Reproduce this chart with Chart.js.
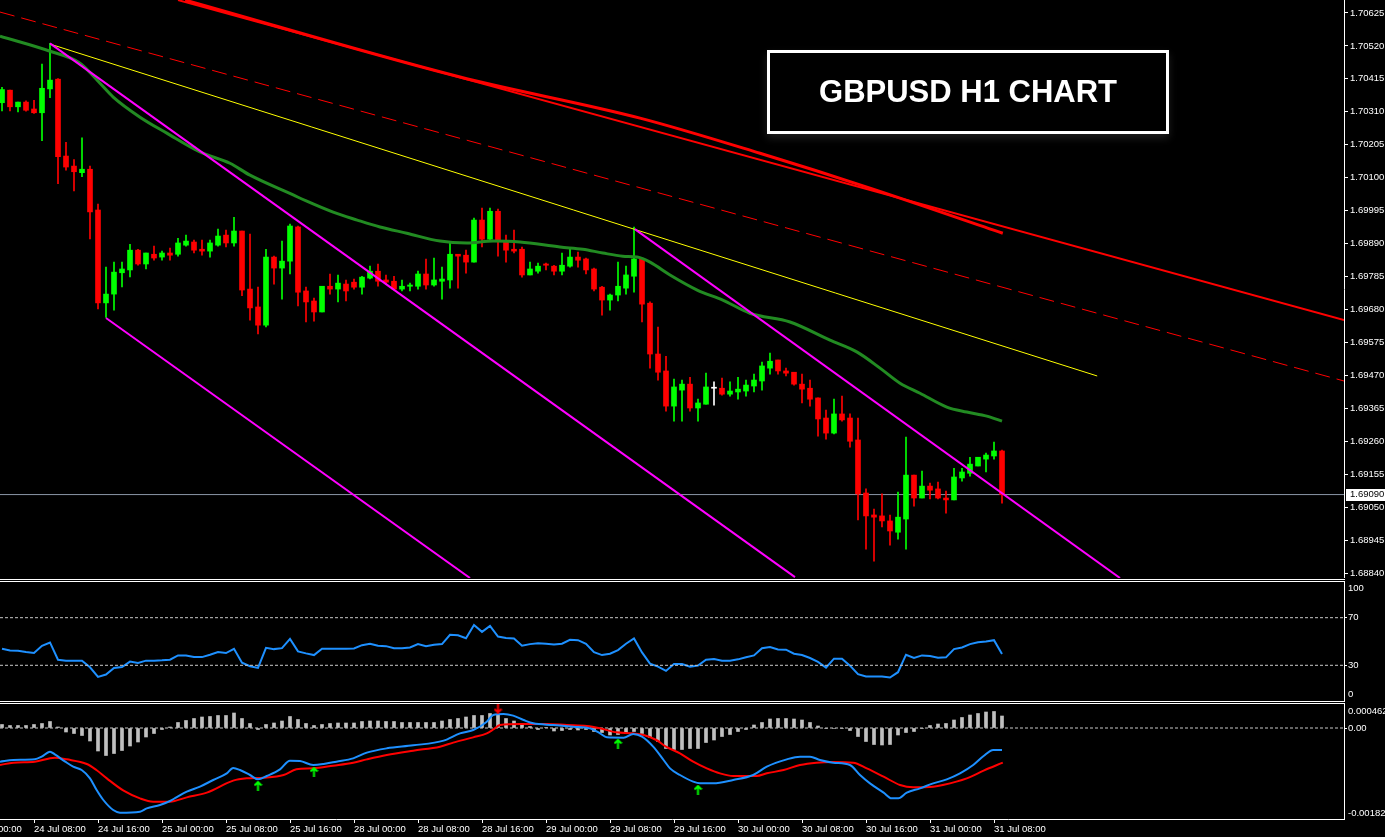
<!DOCTYPE html>
<html><head><meta charset="utf-8">
<script src="https://cdn.jsdelivr.net/npm/chart.js@4.4.0/dist/chart.umd.min.js"></script>
<style>
html,body{margin:0;padding:0;background:#000;width:1385px;height:837px;overflow:hidden;}
canvas{position:absolute;left:0;}
.sep{position:absolute;left:0;width:1345px;height:1px;background:#fff;}
#title{position:absolute;left:767px;top:50px;width:402px;height:84px;box-sizing:border-box;border:3px solid #fff;color:#fff;font:bold 31px "Liberation Sans",Arial,sans-serif;display:flex;align-items:center;justify-content:center;box-shadow:0 4px 8px rgba(255,255,255,0.12);}
</style></head><body>
<canvas id="cMain" width="1385" height="578" style="top:0"></canvas>
<canvas id="cRsi" width="1385" height="119" style="top:582px"></canvas>
<canvas id="cMacd" width="1385" height="133" style="top:704px"></canvas>
<div class="sep" style="top:579px"></div>
<div class="sep" style="top:581px"></div>
<div class="sep" style="top:701px"></div>
<div class="sep" style="top:703px"></div>
<div id="title">GBPUSD H1 CHART</div>
<script>
// ---------- DATA ----------
const open = [
1.70339,1.70379,1.70326,1.70341,1.70319,1.70307,1.70383,1.70414,1.70169,1.70137,
1.70116,1.70127,1.69997,1.69701,1.69729,1.69797,1.69806,1.69869,1.69825,1.69856,
1.69847,1.69860,1.69856,1.69885,1.69895,1.69872,1.69866,1.69885,1.69917,1.69892,
1.69930,1.69745,1.69688,1.69630,1.69847,1.69812,1.69834,1.69943,1.69739,1.69707,
1.69672,1.69754,1.69745,1.69761,1.69767,1.69751,1.69780,1.69802,1.69774,1.69770,
1.69745,1.69754,1.69754,1.69793,1.69758,1.69770,1.69774,1.69856,1.69853,1.69831,
1.69965,1.69904,1.69993,1.69895,1.69872,1.69872,1.69790,1.69802,1.69825,1.69818,
1.69802,1.69818,1.69847,1.69841,1.69809,1.69751,1.69710,1.69726,1.69748,1.69786,
1.69841,1.69700,1.69538,1.69484,1.69372,1.69423,1.69442,1.69366,1.69378,1.69429,
1.69429,1.69410,1.69417,1.69420,1.69436,1.69452,1.69493,1.69519,1.69484,1.69480,
1.69442,1.69429,1.69398,1.69334,1.69286,1.69347,1.69334,1.69264,1.69095,1.69025,
1.69022,1.69006,1.68970,1.69012,1.69152,1.69079,1.69117,1.69108,1.69079,1.69073,
1.69143,1.69158,1.69181,1.69203,1.69213,1.69229];
const high = [
1.70388,1.70379,1.70341,1.70345,1.70347,1.70462,1.70528,1.70416,1.70213,1.70158,
1.70227,1.70137,1.70016,1.69815,1.69831,1.69831,1.69888,1.69872,1.69860,1.69882,
1.69866,1.69876,1.69907,1.69917,1.69901,1.69901,1.69901,1.69936,1.69933,1.69974,
1.69930,1.69920,1.69751,1.69872,1.69850,1.69898,1.69952,1.69946,1.69751,1.69716,
1.69754,1.69793,1.69790,1.69774,1.69777,1.69786,1.69818,1.69825,1.69790,1.69786,
1.69774,1.69764,1.69802,1.69841,1.69844,1.69815,1.69892,1.69856,1.69869,1.69971,
1.70003,1.70003,1.70000,1.69917,1.69933,1.69879,1.69831,1.69828,1.69828,1.69821,
1.69860,1.69872,1.69863,1.69844,1.69812,1.69754,1.69729,1.69831,1.69818,1.69943,
1.69841,1.69704,1.69624,1.69531,1.69458,1.69455,1.69464,1.69394,1.69477,1.69449,
1.69461,1.69449,1.69464,1.69455,1.69474,1.69512,1.69541,1.69519,1.69493,1.69480,
1.69474,1.69455,1.69398,1.69359,1.69394,1.69404,1.69347,1.69334,1.69108,1.69044,
1.69092,1.69025,1.69098,1.69273,1.69152,1.69165,1.69127,1.69130,1.69101,1.69174,
1.69174,1.69209,1.69209,1.69222,1.69257,1.69232];
const low = [
1.70313,1.70313,1.70310,1.70312,1.70305,1.70218,1.70355,1.70081,1.70124,1.70058,
1.70103,1.69905,1.69682,1.69655,1.69678,1.69752,1.69784,1.69821,1.69809,1.69837,
1.69837,1.69837,1.69850,1.69882,1.69860,1.69853,1.69847,1.69882,1.69879,1.69882,
1.69724,1.69646,1.69602,1.69624,1.69761,1.69713,1.69793,1.69691,1.69640,1.69643,
1.69672,1.69729,1.69704,1.69707,1.69745,1.69729,1.69777,1.69754,1.69761,1.69742,
1.69739,1.69739,1.69745,1.69745,1.69754,1.69713,1.69748,1.69748,1.69796,1.69831,
1.69879,1.69901,1.69850,1.69831,1.69860,1.69783,1.69790,1.69796,1.69806,1.69790,
1.69790,1.69815,1.69815,1.69793,1.69739,1.69662,1.69678,1.69707,1.69729,1.69735,
1.69640,1.69493,1.69455,1.69356,1.69324,1.69324,1.69356,1.69324,1.69378,1.69375,
1.69407,1.69404,1.69394,1.69404,1.69417,1.69423,1.69474,1.69474,1.69468,1.69439,
1.69382,1.69372,1.69276,1.69267,1.69283,1.69324,1.69241,1.69009,1.68916,1.68878,
1.68987,1.68929,1.68948,1.68916,1.69053,1.69079,1.69076,1.69076,1.69031,1.69073,
1.69133,1.69149,1.69181,1.69162,1.69203,1.69063];
const close = [
1.70381,1.70326,1.70341,1.70315,1.70307,1.70385,1.70411,1.70167,1.70134,1.70119,
1.70127,1.69991,1.69701,1.69729,1.69799,1.69809,1.69869,1.69825,1.69860,1.69844,
1.69860,1.69853,1.69892,1.69898,1.69869,1.69866,1.69892,1.69914,1.69892,1.69930,
1.69742,1.69685,1.69630,1.69847,1.69812,1.69834,1.69946,1.69735,1.69704,1.69672,
1.69754,1.69745,1.69764,1.69739,1.69751,1.69783,1.69802,1.69770,1.69767,1.69745,
1.69754,1.69758,1.69793,1.69758,1.69774,1.69777,1.69856,1.69850,1.69831,1.69965,
1.69904,1.69993,1.69901,1.69869,1.69866,1.69790,1.69809,1.69818,1.69821,1.69802,
1.69821,1.69847,1.69837,1.69806,1.69745,1.69710,1.69726,1.69754,1.69790,1.69841,
1.69697,1.69538,1.69480,1.69372,1.69433,1.69442,1.69366,1.69382,1.69433,1.69429,
1.69410,1.69420,1.69426,1.69439,1.69455,1.69500,1.69515,1.69484,1.69477,1.69442,
1.69426,1.69394,1.69331,1.69286,1.69347,1.69328,1.69260,1.69092,1.69022,1.69018,
1.69006,1.68974,1.69018,1.69152,1.69079,1.69117,1.69104,1.69079,1.69073,1.69146,
1.69162,1.69187,1.69209,1.69216,1.69229,1.69090];

const maIdx = [-0.25,6,9.75,12.25,13.9,17.25,20.6,24.75,28.5,31,36.4,38.1,41.4,44.4,47.25,50.6,54.75,58.1,61.4,64.75,69.75,72.6,75.1,77.6,79.4,81,83.5,86.9,90.1,93.5,98.5,103.5,106.9,109.75,112.25,114.75,118.1,120.6,123.1,125];
const maVal = [1.70551,1.70503,1.70465,1.70401,1.70357,1.70293,1.70242,1.70182,1.70146,1.70108,1.70045,1.70025,1.69990,1.69965,1.69943,1.69923,1.69898,1.69892,1.69898,1.69895,1.69879,1.69872,1.69860,1.69850,1.69847,1.69831,1.69790,1.69742,1.69710,1.69668,1.69640,1.69582,1.69544,1.69493,1.69445,1.69413,1.69369,1.69353,1.69340,1.69324];

// trend lines: [bar index, price] endpoints
const magentaA = [[6,1.70528],[99.125,1.68827]];
const magentaB = [[13,1.69653],[58.5,1.68824]];
const magentaC = [[79.1,1.69936],[139.75,1.68824]];
const yellowLine = [[6,1.70526],[136.9,1.69468]];
const redDashed = [[-0.25,1.70628],[167.75,1.69452]];
const redLong = [[22,1.70666],[167.75,1.69646]];
const redWavyIdx = [22.9,57.25,79.75,94.75,108.5,125.1];
const redWavyVal = [1.70666,1.70421,1.70290,1.70178,1.70067,1.69923];
const currentPrice = 1.69090;

const priceTicks = [1.70625,1.70520,1.70415,1.70310,1.70205,1.70100,1.69995,1.69890,1.69785,1.69680,1.69575,1.69470,1.69365,1.69260,1.69155,1.69050,1.68945,1.68840];

const rsi = [
43.9,42.5,42.2,41.1,40.3,46.4,49.2,34.7,33.9,33.9,
33.9,28.3,20.3,22.2,27.8,28.6,33.1,31.9,33.9,33.9,
34.2,34.7,38.3,38.3,36.9,36.9,38.9,41.1,40.3,43.9,
32.2,29.2,27.8,44.7,43.6,44.4,52.2,41.7,40.0,38.6,
43.9,43.9,43.9,43.9,44.2,46.9,48.1,46.4,46.1,44.4,
44.4,45.0,47.8,46.1,47.2,47.8,55.6,55.3,52.8,63.9,
58.1,63.1,54.2,53.0,52.5,46.4,47.8,48.6,48.1,47.5,
48.1,51.4,51.1,48.1,41.1,38.6,39.7,42.8,48.1,52.5,
40.8,31.4,28.9,25.3,31.1,31.1,28.9,29.7,34.7,35.3,
33.9,33.9,35.0,36.7,38.3,44.4,45.3,43.3,43.1,39.7,
38.6,36.1,32.8,28.1,35.6,35.6,29.7,22.5,20.6,20.6,
20.6,19.7,24.2,38.9,36.1,38.3,37.8,36.4,36.7,43.6,
45.0,47.8,49.4,50.0,51.1,39.4];
const rsiLevels = [70,30];

const hist = [
0.00007,0.00005,0.00005,0.00005,0.00007,0.00009,0.00013,0.00002,-0.00008,-0.00011,
-0.00015,-0.00026,-0.00046,-0.00055,-0.00051,-0.00045,-0.00036,-0.00028,-0.00018,-0.00011,
-0.00003,0.00002,0.00011,0.00015,0.00019,0.00022,0.00023,0.00025,0.00025,0.00030,
0.00019,0.00009,-0.00003,0.00007,0.00010,0.00014,0.00023,0.00017,0.00009,0.00005,
0.00007,0.00009,0.00010,0.00010,0.00010,0.00013,0.00014,0.00014,0.00013,0.00013,
0.00011,0.00011,0.00011,0.00011,0.00011,0.00014,0.00017,0.00019,0.00022,0.00025,
0.00025,0.00029,0.00027,0.00019,0.00014,0.00008,0.00003,-0.00003,0.00001,-0.00006,
-0.00005,-0.00003,-0.00004,-0.00003,-0.00007,-0.00009,-0.00014,-0.00013,-0.00011,-0.00007,
-0.00011,-0.00019,-0.00027,-0.00041,-0.00043,-0.00043,-0.00041,-0.00041,-0.00029,-0.00024,
-0.00017,-0.00013,-0.00007,-0.00003,0.00006,0.00011,0.00018,0.00019,0.00019,0.00018,
0.00016,0.00011,0.00004,-0.00001,-0.00001,-0.00001,-0.00005,-0.00017,-0.00027,-0.00033,
-0.00034,-0.00033,-0.00014,-0.00009,-0.00007,-0.00001,0.00005,0.00008,0.00009,0.00016,
0.00021,0.00026,0.00029,0.00032,0.00033,0.00024];

const macdIdx = [-0.25,1.42,4.1,4.96,6,6.6,7.9,8.9,9.96,11,11.83,12.67,13.9,14.75,17.25,18.1,19.75,21,21.8,23.1,24.75,26.4,28.1,28.9,29.75,31,32,33.1,34.75,36,37.25,38.9,40.2,41.8,43.9,45.6,48.1,51.4,55.2,57.25,58.9,60.6,61.4,62.7,63.9,65.2,66.4,68.9,71.4,73.5,74.75,75.6,77.7,78.9,80,81.4,82.7,83.5,84.75,86.4,87.25,88.9,91.4,93.9,95.6,98.1,99.75,101,102.25,103.9,106,107.25,108.5,110.2,111.2,112.05,113.1,114.75,116.4,118.1,119.75,121.4,122.7,123.9,125];
const macdVal = [-0.000673,-0.00064,-0.000627,-0.000573,-0.000473,-0.000527,-0.000673,-0.000773,-0.00084,-0.001007,-0.00124,-0.00144,-0.00164,-0.001693,-0.001673,-0.001607,-0.00154,-0.00146,-0.001387,-0.001273,-0.001173,-0.00104,-0.000907,-0.0008,-0.00084,-0.00094,-0.001027,-0.00096,-0.000827,-0.000653,-0.00066,-0.00074,-0.00072,-0.000673,-0.000607,-0.000493,-0.000407,-0.000347,-0.000253,-0.000107,-0.00004,0.000127,0.00026,0.00028,0.000247,0.00016,0.000093,0.00006,0.000027,-0.000007,-0.000107,-0.000187,-0.000193,-0.00012,-0.000173,-0.000373,-0.00064,-0.000807,-0.00094,-0.001073,-0.001107,-0.001107,-0.00104,-0.00094,-0.000773,-0.000627,-0.000573,-0.000573,-0.00064,-0.000693,-0.00074,-0.00094,-0.001107,-0.001293,-0.001407,-0.001407,-0.001293,-0.001207,-0.001107,-0.001027,-0.000907,-0.00074,-0.00056,-0.00044,-0.00044];
const sigIdx = [-0.25,1.42,4.1,6.6,8.1,10.6,11.8,13.1,15.2,17.25,18.9,21,23.1,25.6,28.9,30.6,32.7,35.2,36.8,38.9,41.4,43.9,45.6,48.1,51.4,54.75,56.4,58.9,60.6,61.4,62.25,64.75,68.1,70.6,73.1,74.75,76.8,78.9,80.2,81.8,83,84.75,86.4,88.1,89.75,91.4,94.3,95.6,97.7,99.75,101.8,103.9,106.4,108.1,110.2,112.25,113.9,116.4,117.6,120.6,122.7,125.1];
const sigVal = [-0.00074,-0.000693,-0.000673,-0.000593,-0.000627,-0.00072,-0.00084,-0.001007,-0.001253,-0.001407,-0.001473,-0.001473,-0.001387,-0.001293,-0.001053,-0.001007,-0.000993,-0.00094,-0.000827,-0.000807,-0.000753,-0.000693,-0.000627,-0.00054,-0.000453,-0.000373,-0.000293,-0.000187,-0.000107,-0.00003,0.00006,0.00008,0.00008,0.00006,0.00004,-0.000007,-0.000087,-0.000107,-0.00014,-0.00024,-0.000373,-0.000507,-0.000673,-0.000807,-0.000907,-0.00096,-0.00096,-0.000907,-0.00084,-0.00074,-0.000693,-0.00068,-0.000693,-0.000807,-0.000973,-0.00114,-0.001187,-0.001173,-0.00114,-0.001007,-0.000853,-0.000693];
const upArrowIdx = [32,39,77,87];
const upArrowVal = [-0.00116,-0.00088,-0.00032,-0.00124];
const downArrowIdx = [62];
const downArrowVal = [0.00039];
const macdTop = 0.000462, macdBottom = -0.00182;

const timeIdx = [-4,4,12,20,28,36,44,52,60,68,76,84,92,100,108,116,124];
const timeLbl = ["24 Jul 00:00","24 Jul 08:00","24 Jul 16:00","25 Jul 00:00","25 Jul 08:00","25 Jul 16:00","28 Jul 00:00","28 Jul 08:00","28 Jul 16:00","29 Jul 00:00","29 Jul 08:00","29 Jul 16:00","30 Jul 00:00","30 Jul 08:00","30 Jul 16:00","31 Jul 00:00","31 Jul 08:00"];

// ---------- SETUP ----------
const FONT = {family:'"Liberation Sans", Arial, sans-serif', size:9.5};
const FONTSTR = '9.5px "Liberation Sans", Arial, sans-serif';
const XMIN = -0.25, XMAX = 167.75, AXIS_W = 41;
const noPad = s => { s.paddingTop = 0; s.paddingBottom = 0; s.paddingLeft = 0; s.paddingRight = 0; };
const fixW = s => { s.width = AXIS_W; noPad(s); };
const pts = (xs, ys) => xs.map((x,i)=>({x:x, y:ys[i]}));
const seg = a => a.map(p=>({x:p[0], y:p[1]}));
const idx = open.map((_,i)=>i);
const candleColor = open.map((o,i)=> close[i]>o ? '#00ff00' : (close[i]<o ? '#ff0000' : '#ffffff'));
const hiddenX = {type:'linear', display:false, min:XMIN, max:XMAX, offset:false, afterFit:noPad};
const baseOpts = {responsive:false, animation:false, devicePixelRatio:1, events:[],
  layout:{padding:0, autoPadding:false},
  plugins:{legend:{display:false}, tooltip:{enabled:false}}};
const lineDs = (data, color, width, extra) => Object.assign({type:'line', data:data, borderColor:color, borderWidth:width, pointRadius:0, fill:false, tension:0}, extra||{});

// main chart
new Chart(document.getElementById('cMain'), {
  type:'bar',
  data:{datasets:[
    lineDs([{x:XMIN,y:currentPrice},{x:XMAX,y:currentPrice}], '#8a96a6', 1, {order:20}),
    {type:'bar', data:idx.map(i=>({x:i, y:[low[i],high[i]]})), backgroundColor:candleColor, barThickness:1, grouped:false, order:12},
    {type:'bar', data:idx.map(i=>({x:i, y:[open[i],close[i]]})), backgroundColor:candleColor, barThickness:5, minBarLength:1, grouped:false, order:11},
    lineDs(pts(maIdx, maVal), '#228b22', 3, {cubicInterpolationMode:'monotone', order:5}),
    lineDs(seg(redDashed), '#ff0000', 1, {borderDash:[15,7], order:4}),
    lineDs(seg(redLong), '#ff0000', 2, {order:3}),
    lineDs(pts(redWavyIdx, redWavyVal), '#ff0000', 3, {cubicInterpolationMode:'monotone', order:3}),
    lineDs(seg(yellowLine), '#ffff00', 1, {order:2}),
    lineDs(seg(magentaA), '#ff00ff', 2, {order:1}),
    lineDs(seg(magentaB), '#ff00ff', 2, {order:1}),
    lineDs(seg(magentaC), '#ff00ff', 2, {order:1})
  ]},
  options:Object.assign({}, baseOpts, {
    scales:{
      x:hiddenX,
      y:{type:'linear', position:'right', min:1.688241, max:1.706664, afterFit:fixW,
        afterBuildTicks:a=>{a.ticks = priceTicks.map(v=>({value:v}));},
        ticks:{color:'#ffffff', font:FONT, padding:2, autoSkip:false, callback:v=>Number(v).toFixed(5)},
        grid:{drawOnChartArea:false, drawTicks:true, tickLength:4, color:'#ffffff'},
        border:{display:true, color:'#ffffff', width:1}}
    }
  }),
  plugins:[{id:'priceBox', afterDraw(chart){
    const y = chart.scales.y.getPixelForValue(currentPrice);
    const ctx = chart.ctx; ctx.save();
    ctx.fillStyle = '#ffffff'; ctx.fillRect(1346, Math.round(y)-6, 39, 12);
    ctx.fillStyle = '#000000'; ctx.font = FONTSTR; ctx.textBaseline = 'middle'; ctx.textAlign='left';
    ctx.fillText(currentPrice.toFixed(5), 1350, y);
    ctx.restore();
  }}]
});

// RSI chart
new Chart(document.getElementById('cRsi'), {
  type:'line',
  data:{datasets:[
    lineDs([{x:XMIN,y:rsiLevels[0]},{x:XMAX,y:rsiLevels[0]}], '#c8c8c8', 1, {borderDash:[3,2]}),
    lineDs([{x:XMIN,y:rsiLevels[1]},{x:XMAX,y:rsiLevels[1]}], '#c8c8c8', 1, {borderDash:[3,2]}),
    lineDs(idx.map(i=>({x:i, y:rsi[i]})), '#1e90ff', 2)
  ]},
  options:Object.assign({}, baseOpts, {
    scales:{
      x:hiddenX,
      y:{type:'linear', position:'right', min:0, max:100, afterFit:fixW,
        afterBuildTicks:a=>{a.ticks = rsiLevels.map(v=>({value:v}));},
        ticks:{color:'#ffffff', font:FONT, padding:1, autoSkip:false, callback:v=>String(v)},
        grid:{drawOnChartArea:false, drawTicks:true, tickLength:3, color:'#ffffff'},
        border:{display:true, color:'#ffffff', width:1}}
    }
  }),
  plugins:[{id:'rsiLbl', afterDraw(chart){
    const ctx = chart.ctx, a = chart.chartArea; ctx.save();
    ctx.fillStyle = '#ffffff'; ctx.font = FONTSTR; ctx.textBaseline='middle'; ctx.textAlign='left';
    ctx.fillText('100', 1348, a.top+6); ctx.fillText('0', 1348, a.bottom-7);
    ctx.restore();
  }}]
});

// MACD chart
function arrowCanvas(color, up){
  const c = document.createElement('canvas'); c.width = 9; c.height = 10;
  const g = c.getContext('2d'); g.strokeStyle = color; g.lineWidth = 2; g.beginPath();
  if (up){ g.moveTo(4.5,1); g.lineTo(4.5,10); g.moveTo(1,4.5); g.lineTo(4.5,1); g.lineTo(8,4.5); }
  else { g.moveTo(4.5,0); g.lineTo(4.5,9); g.moveTo(1,5.5); g.lineTo(4.5,9); g.lineTo(8,5.5); }
  g.stroke(); return c;
}
new Chart(document.getElementById('cMacd'), {
  type:'bar',
  data:{datasets:[
    {type:'bar', data:idx.map(i=>({x:i, y:hist[i]})), backgroundColor:'#c0c0c0', barThickness:3, grouped:false, order:10},
    lineDs([{x:XMIN,y:0},{x:XMAX,y:0}], '#c8c8c8', 1, {borderDash:[3,2], order:9}),
    lineDs(pts(sigIdx, sigVal), '#ff0000', 2, {cubicInterpolationMode:'monotone', order:3}),
    lineDs(pts(macdIdx, macdVal), '#1e90ff', 2, {cubicInterpolationMode:'monotone', order:2}),
    {type:'line', showLine:false, data:pts(upArrowIdx, upArrowVal), pointStyle:arrowCanvas('#00ff00', true), pointRadius:5, order:1},
    {type:'line', showLine:false, data:pts(downArrowIdx, downArrowVal), pointStyle:arrowCanvas('#ff0000', false), pointRadius:5, order:1}
  ]},
  options:Object.assign({}, baseOpts, {
    scales:{
      x:{type:'linear', position:'bottom', min:XMIN, max:XMAX, offset:false,
        afterFit:s=>{s.height = 18; noPad(s);},
        afterBuildTicks:a=>{a.ticks = timeIdx.map(v=>({value:v}));},
        ticks:{color:'#ffffff', font:FONT, padding:1, autoSkip:false, maxRotation:0, minRotation:0, align:'start',
          callback:v=>{const k = timeIdx.indexOf(v); return k>=0 ? timeLbl[k] : '';}},
        grid:{drawOnChartArea:false, drawTicks:true, tickLength:4, color:'#ffffff', offset:false},
        border:{display:true, color:'#ffffff', width:1}},
      y:{type:'linear', position:'right', min:-0.00182, max:0.00048, afterFit:fixW,
        afterBuildTicks:a=>{a.ticks = [{value:0}];},
        ticks:{color:'#ffffff', font:FONT, padding:1, autoSkip:false, callback:()=> '0.00'},
        grid:{drawOnChartArea:false, drawTicks:true, tickLength:3, color:'#ffffff'},
        border:{display:true, color:'#ffffff', width:1}}
    }
  }),
  plugins:[{id:'macdLbl', afterDraw(chart){
    const ctx = chart.ctx, a = chart.chartArea; ctx.save();
    ctx.fillStyle = '#ffffff'; ctx.font = FONTSTR; ctx.textBaseline='middle'; ctx.textAlign='left';
    ctx.fillText(String(macdTop), 1348, a.top+7);
    ctx.fillText(String(macdBottom), 1348, a.bottom-6);
    ctx.restore();
  }}]
});
</script>
</body></html>
